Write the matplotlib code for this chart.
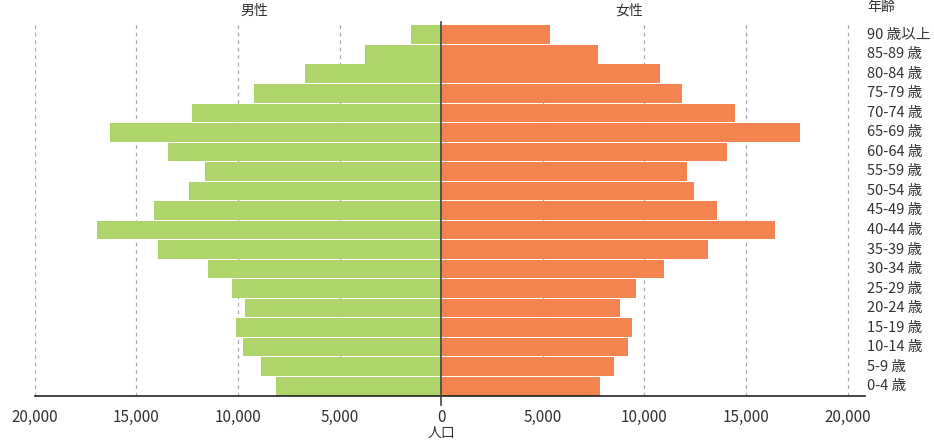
import matplotlib
matplotlib.use("Agg")
import matplotlib.pyplot as plt
import numpy as np

plt.rcParams['font.family'] = ['Noto Sans CJK JP', 'DejaVu Sans']

# age groups from youngest (bottom) to oldest (top)
age_labels = ['0-4 歳', '5-9 歳', '10-14 歳', '15-19 歳', '20-24 歳', '25-29 歳',
              '30-34 歳', '35-39 歳', '40-44 歳', '45-49 歳', '50-54 歳', '55-59 歳',
              '60-64 歳', '65-69 歳', '70-74 歳', '75-79 歳', '80-84 歳', '85-89 歳',
              '90 歳以上']
male = [8120, 8850, 9740, 10080, 9640, 10280, 11460, 13920, 16920, 14120,
        12400, 11610, 13430, 16280, 12250, 9200, 6690, 3740, 1480]
female = [7790, 8520, 9210, 9410, 8820, 9560, 10980, 13150, 16440, 13590,
          12460, 12070, 14080, 17670, 14430, 11870, 10740, 7690, 5330]
x_ticks = [-20000, -15000, -10000, -5000, 0, 5000, 10000, 15000, 20000]

green = '#b0d46c'
orange = '#f3834f'
text_col = '#333333'

fig = plt.figure(figsize=(9.34, 4.45), dpi=100)
ax = fig.add_axes([34.7 / 934, 49 / 445, (865 - 34.7) / 934, (396 - 22) / 445])

y = np.arange(len(age_labels))
ax.barh(y, -np.array(male), height=0.95, color=green, zorder=2)
ax.barh(y, female, height=0.95, color=orange, zorder=2)

ax.set_xlim(-20000, 20850)
ax.set_ylim(-0.5, 18.65)

for t in x_ticks:
    if t != 0:
        ax.axvline(t, color='#aaaaaa', lw=0.9, ls=(0, (3, 3)), zorder=1)
ax.axvline(0, ymin=-0.025, ymax=1, color='#444444', lw=1.2, zorder=3, clip_on=False)

ax.set_xticks(x_ticks)
ax.set_xticklabels([f'{abs(t):,}' for t in x_ticks], fontsize=11, color=text_col)
ax.tick_params(axis='x', length=0, pad=9)
ax.set_yticks([])

for s in ['top', 'left', 'right']:
    ax.spines[s].set_visible(False)
ax.spines['bottom'].set_color('#222222')
ax.spines['bottom'].set_linewidth(1.2)

for yi, lab in zip(y, age_labels):
    ax.text(20950, yi, lab, ha='left', va='center', fontsize=10.5, color=text_col)

ax.text(-9200, 19.22, '男性', ha='center', va='center', fontsize=10, color=text_col)
ax.text(9250, 19.22, '女性', ha='center', va='center', fontsize=10, color=text_col)
ax.text(20950, 19.42, '年齢', ha='left', va='center', fontsize=10, color=text_col)
ax.text(0, -2.38, '人口', ha='center', va='center', fontsize=10, color=text_col)

fig.savefig('out.png', dpi=100)
